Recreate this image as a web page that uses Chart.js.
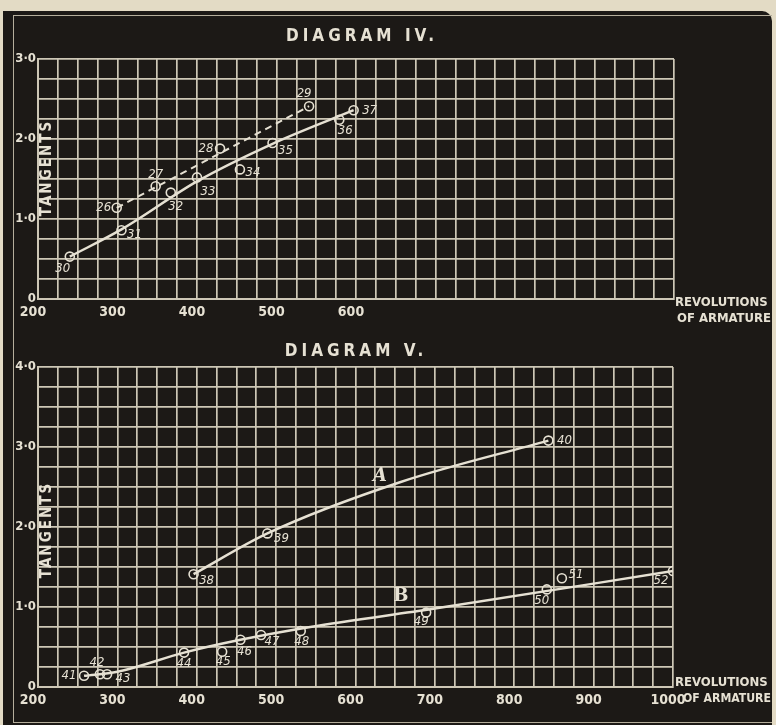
<!DOCTYPE html>
<html lang="en">
<head>
<meta charset="UTF-8">
<title>Diagrams IV and V - Tangents / Revolutions of Armature</title>
<script src="https://cdn.jsdelivr.net/npm/chart.js"></script>
<style>
  html, body { margin: 0; padding: 0; }
  body { width: 776px; height: 725px; background: #e3dbc5; position: relative; overflow: hidden; }
  #panel { position: absolute; left: 3px; top: 11px; width: 769px; height: 714px; background: #1c1916; border-top-right-radius: 10px; }
  #frame { position: absolute; left: 13px; top: 15px; width: 758px; height: 706px; border: 1px solid #b5ae9c; border-right: none; }
  canvas { position: absolute; left: 0; }
  #diag4 { top: 0; }
  #diag5 { top: 330px; }
</style>
</head>
<body>
<div id="panel"></div>
<div id="frame"></div>
<canvas id="diag4" width="776" height="330"></canvas>
<canvas id="diag5" width="776" height="395"></canvas>

<script>
// ---- Diagram IV ----
// full line, points 30-37
const d4SolidIds = ['30', '31', '32', '33', '34', '35', '36', '37'];
const d4SolidRev = [240, 305, 367, 400, 454, 495, 579, 597];
const d4SolidTan = [0.53, 0.86, 1.33, 1.52, 1.62, 1.95, 2.24, 2.36];
// the drawn curve for it
const d4SolidCurveRev = [240, 305, 400, 495, 597];
const d4SolidCurveTan = [0.53, 0.87, 1.47, 1.94, 2.36];
// dashed line, points 26-29
const d4DashIds = ['26', '27', '28', '29'];
const d4DashRev = [299, 348, 429, 541];
const d4DashTan = [1.14, 1.41, 1.88, 2.41];
const d4DashCurveRev = [299, 541];
const d4DashCurveTan = [1.14, 2.41];
const d4XLabels = [200, 300, 400, 500, 600];

// ---- Diagram V ----
// curve A, points 38-40
const d5AIds = ['38', '39', '40'];
const d5ARev = [396, 489, 843];
const d5ATan = [1.41, 1.92, 3.08];
const d5ACurveRev = [396, 489, 656, 843];
const d5ACurveTan = [1.41, 1.92, 2.56, 3.08];
// curve B, points 41-52
const d5BIds = ['41', '42', '43', '44', '45', '46', '47', '48', '49', '50', '51', '52'];
const d5BRev = [258, 278, 287, 384, 432, 455, 481, 531, 689, 841, 860, 1000];
const d5BTan = [0.14, 0.16, 0.16, 0.43, 0.44, 0.59, 0.65, 0.70, 0.93, 1.22, 1.36, 1.45];
const d5BCurveRev = [258, 300, 384, 455, 543, 700, 1000];
const d5BCurveTan = [0.14, 0.19, 0.43, 0.59, 0.75, 0.98, 1.45];
const d5XLabels = [200, 300, 400, 500, 600, 700, 800, 900, 1000];
// where the letters A and B sit (rev, tangent)
const d5Letters = ['A', 'B'];
const d5LetterRev = [631, 657];
const d5LetterTan = [2.63, 1.13];

const INK = '#e6e1d3';
const GRID = '#cdc7b6';
const FONT = "'DejaVu Sans Condensed', 'Liberation Sans Narrow', 'DejaVu Sans', sans-serif";

const pts = (xs, ys) => xs.map((x, i) => ({ x: x, y: ys[i] }));

// label offsets (px) of the point numbers, same order as the ids
const d4SolidOff = [[-7, 12], [13, 4], [5, 14], [11, 14], [13, 3], [13, 8], [6, 11], [16, 0]];
const d4DashOff = [[-13, 0], [0, -12], [-14, 0], [-5, -13]];
const d5AOff = [[13, 6], [14, 5], [16, 0]];
const d5BOff = [[-15, 0], [-3, -12], [16, 4], [0, 11], [1, 10], [4, 12], [11, 7], [1, 11], [-5, 9], [-5, 11], [14, -4], [-12, 10]];

// left-aligned text squeezed to end before `right`
function fitText(ctx, text, x, y, right) {
  const w = ctx.measureText(text).width;
  const k = Math.min(1, (right - x) / w);
  ctx.save();
  ctx.translate(x, y);
  ctx.scale(k, 1);
  ctx.fillText(text, 0, 0);
  ctx.restore();
}

function notes(cfg) {
  return {
    id: 'notes',
    afterDatasetsDraw(chart) {
      const ctx = chart.ctx, xs = chart.scales.x, ys = chart.scales.y;
      ctx.save();
      ctx.fillStyle = INK;
      ctx.textAlign = 'center';
      ctx.textBaseline = 'middle';

      // point numbers
      ctx.font = 'italic 13px ' + FONT;
      cfg.numbers.forEach(s => s.ids.forEach((id, i) => {
        ctx.fillText(id, xs.getPixelForValue(s.rev[i]) + s.off[i][0], ys.getPixelForValue(s.tan[i]) + s.off[i][1]);
      }));

      // curve letters
      (cfg.letters || []).forEach((l, i) => {
        ctx.font = (l === 'A' ? 'bold italic ' : 'bold ') + "18px 'DejaVu Serif', 'Liberation Serif', serif";
        ctx.fillText(l, xs.getPixelForValue(cfg.letterRev[i]), ys.getPixelForValue(cfg.letterTan[i]));
      });

      // TANGENTS, written up the left edge inside the grid
      ctx.save();
      ctx.translate(47, cfg.tangentsY);
      ctx.rotate(-Math.PI / 2);
      ctx.font = 'bold 15px ' + FONT;
      ctx.letterSpacing = '2px';
      ctx.fillText('TANGENTS', 0, 0);
      ctx.restore();

      // title
      ctx.font = 'bold 17px ' + FONT;
      ctx.letterSpacing = '4px';
      ctx.fillText(cfg.title, cfg.titleX, cfg.titleY);

      // x axis name
      ctx.font = 'bold 13px ' + FONT;
      ctx.letterSpacing = '0px';
      ctx.textAlign = 'left';
      fitText(ctx, 'REVOLUTIONS', 675, cfg.axisY, 771);
      fitText(ctx, 'OF ARMATURE', cfg.axis2X, cfg.axisY + 16, 771);
      ctx.restore();
    }
  };
}

function yLabel(v) {
  if (!Number.isInteger(v)) return '';
  return v === 0 ? '0' : v.toFixed(1).replace('.', '\u00b7');
}

function scales(xLabels, yMax, xHeight) {
  return {
    x: {
      type: 'linear', min: 200, max: 1000,
      afterFit: s => { s.height = xHeight; },
      ticks: {
        stepSize: 25, autoSkip: false, maxRotation: 0, padding: 5, labelOffset: -5,
        color: INK, font: { family: FONT, size: 14, weight: 'bold' },
        callback: v => xLabels.includes(v) ? String(v) : ''
      },
      grid: { color: GRID, lineWidth: 1.7, drawTicks: false },
      border: { color: GRID, width: 2 }
    },
    y: {
      type: 'linear', min: 0, max: yMax,
      afterFit: s => { s.width = 38; },
      ticks: {
        stepSize: 0.25, autoSkip: false, padding: 2,
        color: INK, font: { family: FONT, size: 13, weight: 'bold' },
        callback: yLabel
      },
      grid: { color: GRID, lineWidth: 1.7, drawTicks: false },
      border: { color: GRID, width: 2 }
    }
  };
}

const markerStyle = {
  showLine: false, pointRadius: 4.5, pointStyle: 'circle',
  pointBackgroundColor: 'rgba(0,0,0,0)', pointBorderColor: INK, pointBorderWidth: 1.6
};
const curveStyle = {
  showLine: true, pointRadius: 0, borderColor: INK, borderWidth: 2.5,
  cubicInterpolationMode: 'monotone'
};

new Chart(document.getElementById('diag4'), {
  type: 'scatter',
  data: {
    datasets: [
      Object.assign({ data: pts(d4SolidRev, d4SolidTan) }, markerStyle),
      Object.assign({ data: pts(d4DashRev, d4DashTan) }, markerStyle),
      Object.assign({ data: pts(d4SolidCurveRev, d4SolidCurveTan) }, curveStyle),
      Object.assign({ data: pts(d4DashCurveRev, d4DashCurveTan), borderDash: [7, 5] }, curveStyle, { borderWidth: 2 })
    ]
  },
  options: {
    responsive: false, animation: false, events: [],
    layout: { padding: { left: 0, top: 59, right: 102, bottom: 0 } },
    plugins: { legend: { display: false }, tooltip: { enabled: false } },
    scales: scales(d4XLabels, 3, 31)
  },
  plugins: [notes({
    numbers: [
      { ids: d4SolidIds, rev: d4SolidRev, tan: d4SolidTan, off: d4SolidOff },
      { ids: d4DashIds, rev: d4DashRev, tan: d4DashTan, off: d4DashOff }
    ],
    tangentsY: 168, title: 'DIAGRAM IV.', titleX: 362, titleY: 37,
    axisY: 303, axis2X: 677
  })]
});

new Chart(document.getElementById('diag5'), {
  type: 'scatter',
  data: {
    datasets: [
      Object.assign({ data: pts(d5ARev, d5ATan) }, markerStyle),
      Object.assign({ data: pts(d5BRev, d5BTan) }, markerStyle),
      Object.assign({ data: pts(d5ACurveRev, d5ACurveTan) }, curveStyle),
      Object.assign({ data: pts(d5BCurveRev, d5BCurveTan) }, curveStyle)
    ]
  },
  options: {
    responsive: false, animation: false, events: [],
    layout: { padding: { left: 0, top: 37, right: 103, bottom: 0 } },
    plugins: { legend: { display: false }, tooltip: { enabled: false } },
    scales: scales(d5XLabels, 4, 38)
  },
  plugins: [notes({
    numbers: [
      { ids: d5AIds, rev: d5ARev, tan: d5ATan, off: d5AOff },
      { ids: d5BIds, rev: d5BRev, tan: d5BTan, off: d5BOff }
    ],
    letters: d5Letters, letterRev: d5LetterRev, letterTan: d5LetterTan,
    tangentsY: 200, title: 'DIAGRAM V.', titleX: 356, titleY: 22,
    axisY: 353, axis2X: 683
  })]
});
</script>
</body>
</html>
